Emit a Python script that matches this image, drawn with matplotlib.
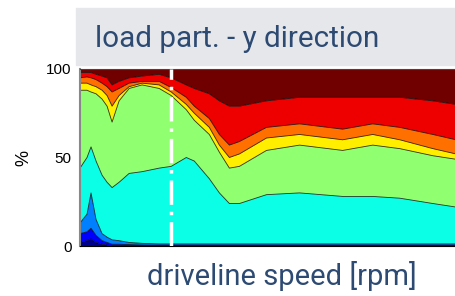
import numpy as np
import matplotlib.pyplot as plt
from matplotlib.patches import Rectangle

# driveline speed (arbitrary rpm scale, no ticks shown)
speed = [10, 80, 120, 170, 230, 280, 330, 400, 500, 630, 800, 920, 1070,
         1150, 1300, 1400, 1500, 1600, 1870, 2200, 2630, 2930, 3200, 3530, 3760]

# cumulative boundaries of each load class in %
navy_top   = [2, 3, 4, 2, 1, 0.5, 0.3, 0.3, 0.2, 0.2, 0.2, 0.2, 0.2,
              0.2, 0.2, 0.2, 0.2, 0.2, 0.2, 0.2, 0.2, 0.2, 0.2, 0.2, 0.2]
blue_top   = [7, 8, 10, 6, 3, 2, 1, 1, 0.8, 0.6, 0.5, 0.5, 0.5,
              0.5, 0.5, 0.5, 0.5, 0.5, 0.5, 0.5, 0.5, 0.5, 0.5, 0.5, 0.5]
azure_top  = [13, 18, 30, 15, 7, 5, 3.5, 3, 2, 1.5, 1.2, 1.2, 1.2,
              1.2, 1.2, 1.2, 1.2, 1.2, 1.2, 1.2, 1.2, 1.2, 1.2, 1.2, 1.2]
cyan_top   = [44, 50, 56, 48, 40, 36, 33, 36, 41, 42, 44, 45, 50,
              48, 38, 30, 24, 24, 29, 30, 28, 28, 27, 24, 22]
green_top  = [88, 88, 87, 86, 83, 79, 70, 82, 89, 91, 89, 85, 77,
              71, 63, 53, 44, 45, 54, 57, 54, 57, 55, 51, 49]
yellow_top = [92, 92, 91, 90, 88, 85, 79, 85, 90, 92, 91, 87, 80,
              75, 67, 57, 50, 52, 61, 63, 60, 63, 60, 55, 52]
orange_top = [95, 95.5, 95, 94, 92, 90, 87, 89, 92, 93, 93, 89.5, 84,
              79, 72, 63, 57, 59, 67, 69, 66, 69, 67, 63, 60]
red_top    = [98, 98, 98, 97, 96, 95, 91, 93, 95, 96, 97, 95, 91,
              89, 86, 82, 79, 79, 82, 84, 84, 84, 84, 82, 80]
full = [100] * len(speed)

marker_speed = 920

bounds = [np.zeros(len(speed)), navy_top, blue_top, azure_top, cyan_top,
          green_top, yellow_top, orange_top, red_top, full]
colors = ['#00008f', '#0000ff', '#0080ff', '#0affe6', '#90ff70',
          '#ffee00', '#ff7000', '#ee0000', '#700000']

fig = plt.figure(figsize=(4.56, 2.96), dpi=100)
ax = fig.add_axes([80 / 456, 50 / 296, 376 / 456, 177 / 296])

for i in range(len(colors)):
    ax.fill_between(speed, bounds[i], bounds[i + 1], color=colors[i],
                    edgecolor='none', zorder=1)
    ax.plot(speed, bounds[i + 1], color='black', lw=0.6, alpha=0.8, zorder=2)

ax.axvline(marker_speed, color='white', lw=2.5, ls=(0, (7, 2, 1, 2)), zorder=3)

ax.set_xlim(speed[0], speed[-1])
ax.set_ylim(0, 100)
ax.set_xticks([])
ax.set_yticks([0, 50, 100])
ax.tick_params(axis='y', length=0, pad=6, labelsize=11)
for lab in ax.get_yticklabels():
    lab.set_family('Liberation Sans')
ax.spines['left'].set_color('#888888')
ax.spines['left'].set_linewidth(1.5)
ax.spines['bottom'].set_color('black')
ax.spines['top'].set_color('#444444')
ax.spines['right'].set_visible(False)
ax.set_ylabel('%', family='Liberation Sans', fontsize=13, labelpad=10)

# title box
fig.patches.append(Rectangle((76 / 456, 1 - 65 / 296), 380 / 456, 57 / 296,
                             transform=fig.transFigure, color='#e6e7ea', zorder=0))
fig.text(95 / 456, 1 - 39 / 296, 'load part. - y direction', family='Roboto',
         fontsize=21.3, color='#2d4a73', va='center', ha='left')
fig.text(282 / 456, 1 - 276 / 296, 'driveline speed [rpm]', family='Roboto',
         fontsize=21, color='#2d4a73', va='center', ha='center')

fig.savefig('out.png', dpi=100)
